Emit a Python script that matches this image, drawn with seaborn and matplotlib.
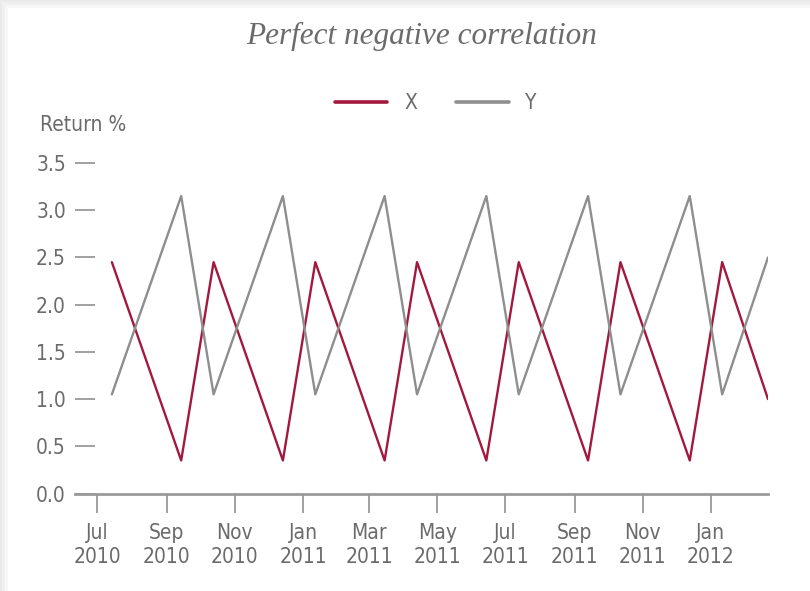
import matplotlib
matplotlib.use("Agg")
import matplotlib.pyplot as plt
import matplotlib.dates as mdates
from matplotlib import font_manager as fm
from matplotlib.patches import Rectangle
import pandas as pd
import seaborn as sns

# Monthly return observations for two perfectly negatively correlated assets
dates = ["2010-07-14", "2010-09-14", "2010-10-13", "2010-12-14", "2011-01-12",
         "2011-03-15", "2011-04-13", "2011-06-14", "2011-07-13", "2011-09-13",
         "2011-10-12", "2011-12-13", "2012-01-11", "2012-02-21"]
x_returns = [2.45, 0.35, 2.45, 0.35, 2.45, 0.35, 2.45, 0.35, 2.45, 0.35,
             2.45, 0.35, 2.45, 1.0]
y_returns = [1.05, 3.15, 1.05, 3.15, 1.05, 3.15, 1.05, 3.15, 1.05, 3.15,
             1.05, 3.15, 1.05, 2.5]
series_names = ["X", "Y"]
series_colors = ["#a3193d", "#8e8e8e"]
y_ticks = [0.0, 0.5, 1.0, 1.5, 2.0, 2.5, 3.0, 3.5]

df = pd.DataFrame({
    "date": pd.to_datetime(dates * 2),
    "ret": x_returns + y_returns,
    "series": [series_names[0]] * len(dates) + [series_names[1]] * len(dates),
})

sns.set_theme(style="white")


def narrow_font():
    """Pick a condensed sans-serif face if one is installed."""
    prefs = ["liberationsansnarrow-regular", "dejavusanscondensed.ttf",
             "robotocondensed-regular", "opensans_condensed", "opensanscondensed"]
    files = [f.fname for f in fm.fontManager.ttflist]
    for p in prefs:
        for f in files:
            if p in f.lower().replace(" ", ""):
                return fm.FontProperties(fname=f)
    for f in fm.fontManager.ttflist:
        name = f.name.lower()
        if ("narrow" in name or "condensed" in name or f.stretch == "condensed") \
                and f.style == "normal" and f.weight in (400, "normal", "regular"):
            return fm.FontProperties(fname=f.fname)
    return fm.FontProperties(family="DejaVu Sans", stretch="condensed")


base = narrow_font()
plt.rcParams["font.family"] = [base.get_name(), "DejaVu Sans"]


def fp(size):
    p = base.copy()
    p.set_size(size)
    return p


TEXT = "#6b6b6b"
AXIS = "#9a9a9a"
FS = 15
W, H = 810, 591

fig = plt.figure(figsize=(8.1, 5.91), dpi=100)
fig.patch.set_facecolor("white")

# soft grey frame along the top and left edges
for w, c in [(8, "#f7f7f7"), (5, "#f0f0f0"), (2, "#eaeaea")]:
    fig.add_artist(Rectangle((0, 0), w / W, 1, transform=fig.transFigure,
                             facecolor=c, edgecolor="none", zorder=0))
    fig.add_artist(Rectangle((0, 1 - w / H), 1, w / H, transform=fig.transFigure,
                             facecolor=c, edgecolor="none", zorder=0))

ax = fig.add_axes([75 / W, (H - 493.5) / H, (768 - 75) / W, (493.5 - 163) / H])
ax.set_facecolor("none")

sns.lineplot(data=df, x="date", y="ret", hue="series", hue_order=series_names,
             palette=series_colors, linewidth=1.7, ax=ax, legend=False)

ax.set_xlim(pd.Timestamp("2010-06-11"), pd.Timestamp("2012-02-21"))
ax.set_ylim(0, 3.5)
ax.set_yticks(y_ticks)
ax.set_yticklabels([f"{v:.1f}" for v in y_ticks])

ax.xaxis.set_major_locator(mdates.MonthLocator(bymonth=[1, 3, 5, 7, 9, 11]))
ax.xaxis.set_major_formatter(mdates.DateFormatter("%b\n%Y"))

for s in ["top", "right", "left"]:
    ax.spines[s].set_visible(False)
ax.spines["bottom"].set_color(AXIS)
ax.spines["bottom"].set_linewidth(2.0)

ax.tick_params(axis="y", direction="in", length=14.5, width=1.3, color=AXIS,
               pad=6.5, labelcolor=TEXT, left=True)
ax.tick_params(axis="x", direction="out", length=14, width=1.3, color=AXIS,
               pad=7, labelcolor=TEXT, bottom=True)
fig.canvas.draw()
for lab in ax.get_yticklabels():
    lab.set_fontproperties(fp(FS))
for lab in ax.get_xticklabels():
    lab.set_fontproperties(fp(FS))
    lab.set_linespacing(1.3)
ax.set_xlabel("")
ax.set_ylabel("")
ax.grid(False)

fig.text(40 / W, 1 - 125 / H, "Return %", fontproperties=fp(FS), color=TEXT,
         ha="left", va="center")

fig.text(422 / W, 1 - 36 / H, "Perfect negative correlation",
         family=["Liberation Serif", "DejaVu Serif"], style="italic",
         fontsize=22.5, color=TEXT, ha="center", va="center")

handles = [plt.Line2D([], [], color=c, linewidth=2.6) for c in series_colors]
fig.legend(handles, series_names, loc="center", bbox_to_anchor=(436 / W, 1 - 103 / H),
           ncol=2, frameon=False, prop=fp(FS), handlelength=2.5,
           handletextpad=0.8, columnspacing=1.9, labelcolor=TEXT)

fig.savefig("out.png", dpi=100, facecolor="white")
